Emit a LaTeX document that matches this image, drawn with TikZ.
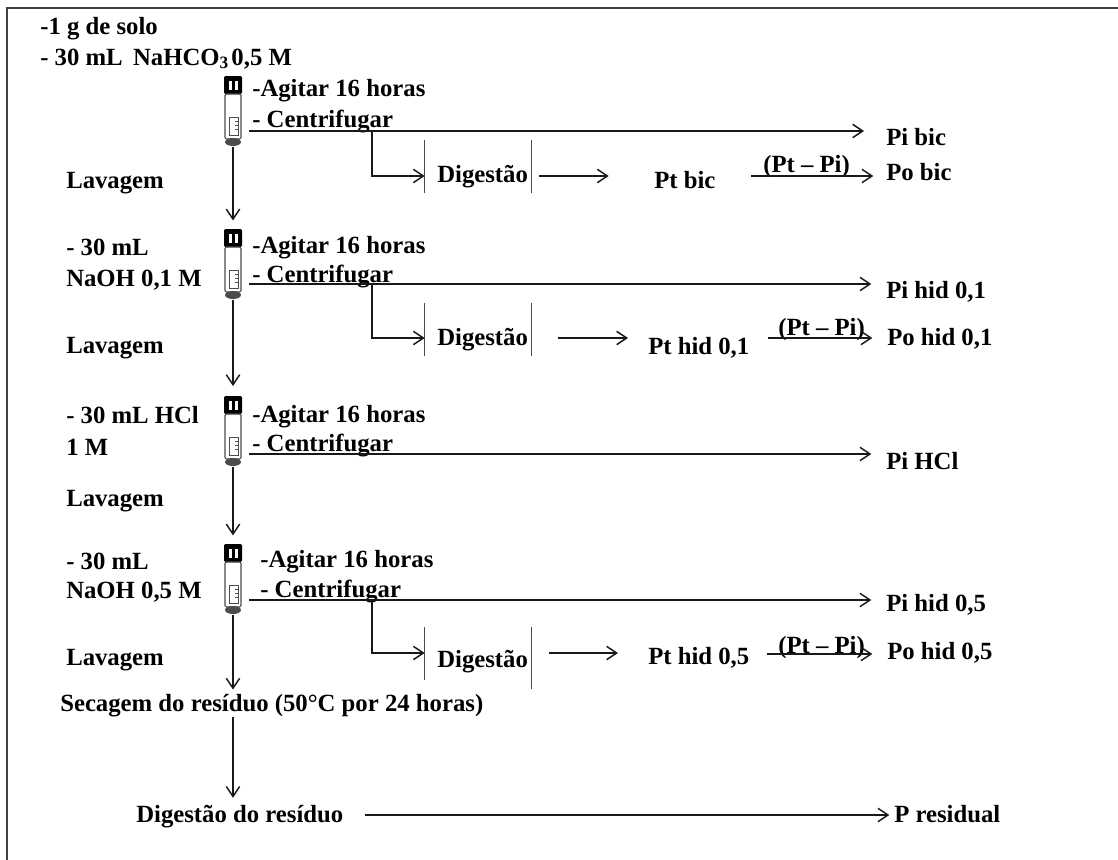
\documentclass[tikz,border=0pt]{standalone}
\usepackage{fontspec}
\setmainfont{Liberation Serif}
\usepackage{tikz}
\usetikzlibrary{arrows.meta}
\colorlet{linecol}{black!90}
\colorlet{framecol}{black!75}
\colorlet{tubecol}{black!70}
\tikzset{
  every node/.style={font=\fontsize{18.55}{20}\selectfont\bfseries, inner sep=0pt},
  lbl/.style={anchor=base west},
  flow/.style={->, line width=1.1pt, linecol},
  digbox/.style={minimum width=79.5pt, minimum height=40pt},
  tubebox/.style={minimum width=13pt, minimum height=53pt},
  pics/tube/.style={code={
    \fill[black, rounded corners=1pt] (-9,-35) rectangle (9,-17);
    \fill[white] (-4.5,-30) rectangle (-1.5,-21);
    \fill[white] (2,-30) rectangle (5,-21);
    \draw[tubecol, line width=0.8pt, rounded corners=1pt] (-8,-17) rectangle (8,28);
    \draw[tubecol, line width=0.5pt] (-4,6) rectangle (5,24);
    \foreach \t in {10,14,18} {
      \draw[tubecol, line width=0.4pt] (2,\t) -- (5,\t);
    }
    \fill[tubecol] (0,31) ellipse [x radius=8, y radius=4];
  }},
}

\begin{document}
\begin{tikzpicture}[x=0.75pt, y=-0.75pt, >={Straight Barb[length=7.5pt, width=10pt]}]

  \useasboundingbox (0,0) rectangle (1118,860);

  % Frame, only two sides.
  \draw[line width=1pt, framecol] (7,860) -- (7,8) -- (1118,8);

  % Tubes.
  \foreach \name/\y in {tubeA/111, tubeB/264, tubeC/431, tubeD/579} {
    \node[tubebox] (\name) at (233,\y) {};
    \pic at (233,\y) {tube};
  }

  % Left column.
  \node[lbl] (solo) at (40,34) {-1 g de solo};
  \node[lbl] (bicarb) at (40,65) {- 30 mL\ \hspace{0.17em}NaHCO\textsubscript{3}\hspace{0.1em}0,5 M};
  \node[lbl] (hidA) at (66,255) {- 30 mL};
  \node[lbl] (hidAb) at (66,286) {NaOH 0,1 M};
  \node[lbl] (hcl) at (66,423) {- 30 mL HCl};
  \node[lbl] (hclb) at (66,455) {1 M};
  \node[lbl] (hidB) at (66,569) {- 30 mL};
  \node[lbl] (hidBb) at (66,598) {NaOH 0,5 M};
  \foreach \name/\y in {lavA/188, lavB/353, lavC/506, lavD/665} {
    \node[lbl] (\name) at (66,\y) {Lavagem};
  }

  % Steps beside the tubes.
  \foreach \name/\x/\ya/\yb in {A/252/96/127, B/252/253/282, C/252/422/451, D/260/567/597} {
    \node[lbl] (agit\name) at (\x,\ya) {-Agitar 16 horas};
    \node[lbl] (cent\name) at (\x,\yb) {- Centrifugar};
  }

  % Results on the right.
  \node[lbl] (pibic) at (886,145) {Pi bic};
  \node[lbl] (pobic) at (886,180) {Po bic};
  \node[lbl] (pihidA) at (886,298) {Pi hid 0,1};
  \node[lbl] (pohidA) at (887,345) {Po hid 0,1};
  \node[lbl] (pihcl) at (886,469) {Pi HCl};
  \node[lbl] (pihidB) at (886,611) {Pi hid 0,5};
  \node[lbl] (pohidB) at (887,659) {Po hid 0,5};

  % Digestion boxes, open at top and bottom.
  \foreach \name/\y/\ytxt/\yarr/\extra in {digA/166.5/182/176/0, digB/329.5/345/338/0, digC/653.5/667/653/9} {
    \node[digbox] (\name) at (478,\y) {};
    \node[lbl] (\name txt) at (437,\ytxt) {Digest\~ao};
    \coordinate (\name arr) at (478,\yarr);
    \draw[line width=0.8pt, tubecol] (\name.north west) -- (\name.south west);
    \draw[line width=0.8pt, tubecol] (\name.north east) -- ([yshift=-\extra*0.75pt]\name.south east);
  }

  % Total P and difference labels.
  \node[lbl] (ptbic) at (654,188) {Pt bic};
  \node[lbl] (pthidA) at (648,354) {Pt hid 0,1};
  \node[lbl] (pthidB) at (648,664) {Pt hid 0,5};
  \node[lbl] (difA) at (763,172) {(Pt -- Pi)};
  \node[lbl] (difB) at (778,335) {(Pt -- Pi)};
  \node[lbl] (difC) at (778,653) {(Pt -- Pi)};

  % Bottom of the sequence.
  \node[lbl] (seca) at (60,711) {Secagem do res\'iduo (50°C por 24 horas)};
  \node[lbl] (resid) at (136,822) {Digest\~ao do res\'iduo};
  \node[lbl] (pres) at (894,822) {P residual};

  % Way down through the tubes.
  \draw[flow, shorten >=6pt] (tubeA.south) -- (tubeB.north);
  \draw[flow, shorten >=7pt] (tubeB.south) -- (tubeC.north);
  \draw[flow, shorten >=6pt] (tubeC.south) -- (tubeD.north);
  \draw[flow, shorten >=3pt] (tubeD.south) -- (tubeD.south |- seca.north);
  \draw[flow, shorten >=5pt] (tubeD.south |- seca.south) -- (tubeD.south |- resid.north);

  % Long arrows to the inorganic P.
  \foreach \name/\res/\y/\gap in {A/pibic/131/16.5, B/pihidA/284/11, C/pihcl/454/11, D/pihidB/600/11} {
    \coordinate (start\name) at (249,\y);
    \draw[flow, shorten >=\gap pt] (start\name) -- (start\name -| \res.west);
  }

  % Branches down to digestion.
  \coordinate (forkline) at (372,0);
  \foreach \name/\dig in {A/digA, B/digB, D/digC} {
    \draw[flow] (forkline |- start\name) |- (\dig.west |- \dig arr);
  }

  % Digestion to total P.
  \draw[flow, shorten <=6pt, shorten >=34pt] (digA.east |- digAarr) -- (ptbic.west |- digAarr);
  \draw[flow, shorten <=20pt, shorten >=15pt] (digB.east |- digBarr) -- (pthidA.west |- digBarr);
  \draw[flow, shorten <=13pt, shorten >=22.5pt] (digC.east |- digCarr) -- (pthidB.west |- digCarr);

  % Total P to organic P.
  \coordinate (diffA) at (751,176);
  \coordinate (diffB) at (768,338);
  \coordinate (diffC) at (767,654);
  \draw[flow, shorten >=9.5pt] (diffA) -- (diffA -| pobic.west);
  \draw[flow, shorten >=11pt] (diffB) -- (diffB -| pohidA.west);
  \draw[flow, shorten >=11pt] (diffC) -- (diffC -| pohidB.west);

  % Residue.
  \coordinate (resline) at (0,815);
  \draw[flow, shorten <=16pt, shorten >=3.5pt] (resid.east |- resline) -- (pres.west |- resline);

\end{tikzpicture}
\end{document}
